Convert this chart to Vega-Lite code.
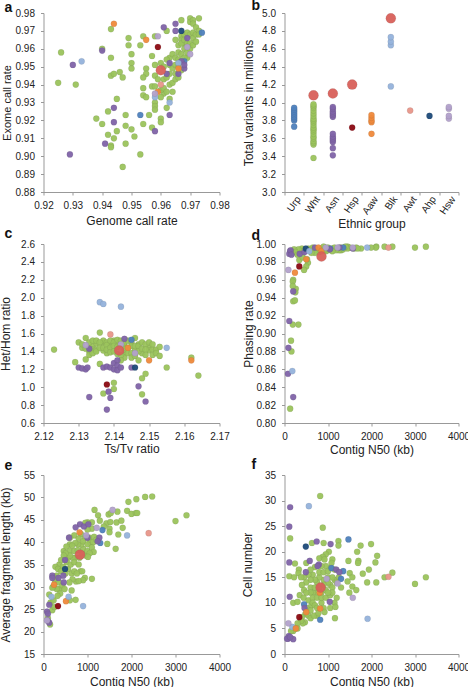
{"$schema":"https://vega.github.io/schema/vega-lite/v6.json","padding":{"left":-1.5,"top":-1,"right":0,"bottom":0},"background":"white","bounds":"flush","columns":2,"spacing":{"row":52,"column":65},
"config":{"view":{"stroke":null},"font":"Liberation Sans","axis":{"grid":false,"domainColor":"#999","tickColor":"#999","tickSize":3,"labelFont":"Liberation Sans","titleFont":"Liberation Sans","labelFontSize":10,"labelPadding":6,"labelFlush":false,"titleFontSize":12,"titleFontWeight":"normal","labelColor":"#222","titleColor":"#222","labelOverlap":false},"axisX":{"labelPadding":5},"title":{"font":"Liberation Sans","fontSize":14,"fontWeight":"bold","anchor":"start","frame":"group","dx":-39,"color":"#111"},"point":{"filled":true}},
"datasets":{
"a":[{"x":0.965,"y":0.965,"g":"Wht"},{"x":0.969,"y":0.955,"g":"Wht"},{"x":0.963,"y":0.955,"g":"Wht"},{"x":0.968,"y":0.963,"g":"Wht"},{"x":0.961,"y":0.935,"g":"Wht"},{"x":0.926,"y":0.958,"g":"Wht"},{"x":0.925,"y":0.941,"g":"Wht"},{"x":0.931,"y":0.94,"g":"Wht"},{"x":0.943,"y":0.971,"g":"Wht"},{"x":0.94,"y":0.96,"g":"Wht"},{"x":0.943,"y":0.955,"g":"Wht"},{"x":0.943,"y":0.945,"g":"Wht"},{"x":0.944,"y":0.946,"g":"Wht"},{"x":0.946,"y":0.947,"g":"Wht"},{"x":0.947,"y":0.944,"g":"Wht"},{"x":0.945,"y":0.932,"g":"Wht"},{"x":0.942,"y":0.925,"g":"Wht"},{"x":0.938,"y":0.921,"g":"Wht"},{"x":0.94,"y":0.918,"g":"Wht"},{"x":0.942,"y":0.912,"g":"Wht"},{"x":0.944,"y":0.91,"g":"Wht"},{"x":0.943,"y":0.906,"g":"Wht"},{"x":0.943,"y":0.905,"g":"Wht"},{"x":0.945,"y":0.914,"g":"Wht"},{"x":0.948,"y":0.923,"g":"Wht"},{"x":0.948,"y":0.917,"g":"Wht"},{"x":0.95,"y":0.915,"g":"Wht"},{"x":0.951,"y":0.911,"g":"Wht"},{"x":0.948,"y":0.907,"g":"Wht"},{"x":0.947,"y":0.894,"g":"Wht"},{"x":0.953,"y":0.901,"g":"Wht"},{"x":0.954,"y":0.918,"g":"Wht"},{"x":0.956,"y":0.923,"g":"Wht"},{"x":0.957,"y":0.916,"g":"Wht"},{"x":0.96,"y":0.921,"g":"Wht"},{"x":0.96,"y":0.919,"g":"Wht"},{"x":0.962,"y":0.927,"g":"Wht"},{"x":0.963,"y":0.932,"g":"Wht"},{"x":0.949,"y":0.966,"g":"Wht"},{"x":0.949,"y":0.962,"g":"Wht"},{"x":0.95,"y":0.957,"g":"Wht"},{"x":0.95,"y":0.952,"g":"Wht"},{"x":0.95,"y":0.949,"g":"Wht"},{"x":0.953,"y":0.962,"g":"Wht"},{"x":0.954,"y":0.967,"g":"Wht"},{"x":0.955,"y":0.949,"g":"Wht"},{"x":0.955,"y":0.946,"g":"Wht"},{"x":0.954,"y":0.944,"g":"Wht"},{"x":0.954,"y":0.938,"g":"Wht"},{"x":0.954,"y":0.934,"g":"Wht"},{"x":0.955,"y":0.933,"g":"Wht"},{"x":0.957,"y":0.939,"g":"Wht"},{"x":0.957,"y":0.956,"g":"Wht"},{"x":0.958,"y":0.967,"g":"Wht"},{"x":0.958,"y":0.951,"g":"Wht"},{"x":0.958,"y":0.945,"g":"Wht"},{"x":0.958,"y":0.939,"g":"Wht"},{"x":0.958,"y":0.93,"g":"Wht"},{"x":0.958,"y":0.928,"g":"Wht"},{"x":0.958,"y":0.926,"g":"Wht"},{"x":0.96,"y":0.952,"g":"Wht"},{"x":0.959,"y":0.943,"g":"Wht"},{"x":0.961,"y":0.95,"g":"Wht"},{"x":0.96,"y":0.937,"g":"Wht"},{"x":0.96,"y":0.933,"g":"Wht"},{"x":0.961,"y":0.943,"g":"Wht"},{"x":0.961,"y":0.938,"g":"Wht"},{"x":0.962,"y":0.97,"g":"Wht"},{"x":0.962,"y":0.954,"g":"Wht"},{"x":0.962,"y":0.944,"g":"Wht"},{"x":0.962,"y":0.936,"g":"Wht"},{"x":0.963,"y":0.951,"g":"Wht"},{"x":0.963,"y":0.946,"g":"Wht"},{"x":0.963,"y":0.94,"g":"Wht"},{"x":0.964,"y":0.957,"g":"Wht"},{"x":0.964,"y":0.949,"g":"Wht"},{"x":0.964,"y":0.941,"g":"Wht"},{"x":0.964,"y":0.936,"g":"Wht"},{"x":0.965,"y":0.955,"g":"Wht"},{"x":0.965,"y":0.951,"g":"Wht"},{"x":0.965,"y":0.946,"g":"Wht"},{"x":0.965,"y":0.943,"g":"Wht"},{"x":0.966,"y":0.962,"g":"Wht"},{"x":0.966,"y":0.958,"g":"Wht"},{"x":0.966,"y":0.954,"g":"Wht"},{"x":0.966,"y":0.95,"g":"Wht"},{"x":0.966,"y":0.944,"g":"Wht"},{"x":0.967,"y":0.976,"g":"Wht"},{"x":0.967,"y":0.967,"g":"Wht"},{"x":0.967,"y":0.965,"g":"Wht"},{"x":0.967,"y":0.963,"g":"Wht"},{"x":0.967,"y":0.957,"g":"Wht"},{"x":0.967,"y":0.953,"g":"Wht"},{"x":0.967,"y":0.948,"g":"Wht"},{"x":0.968,"y":0.968,"g":"Wht"},{"x":0.968,"y":0.965,"g":"Wht"},{"x":0.968,"y":0.96,"g":"Wht"},{"x":0.968,"y":0.955,"g":"Wht"},{"x":0.969,"y":0.969,"g":"Wht"},{"x":0.969,"y":0.963,"g":"Wht"},{"x":0.969,"y":0.958,"g":"Wht"},{"x":0.97,"y":0.977,"g":"Wht"},{"x":0.97,"y":0.975,"g":"Wht"},{"x":0.97,"y":0.968,"g":"Wht"},{"x":0.97,"y":0.963,"g":"Wht"},{"x":0.97,"y":0.96,"g":"Wht"},{"x":0.971,"y":0.976,"g":"Wht"},{"x":0.971,"y":0.974,"g":"Wht"},{"x":0.971,"y":0.969,"g":"Wht"},{"x":0.971,"y":0.966,"g":"Wht"},{"x":0.971,"y":0.962,"g":"Wht"},{"x":0.972,"y":0.972,"g":"Wht"},{"x":0.972,"y":0.968,"g":"Wht"},{"x":0.972,"y":0.964,"g":"Wht"},{"x":0.973,"y":0.977,"g":"Wht"},{"x":0.973,"y":0.97,"g":"Wht"},{"x":0.973,"y":0.968,"g":"Wht"},{"x":0.953,"y":0.923,"g":"Urp"},{"x":0.974,"y":0.969,"g":"Urp"},{"x":0.968,"y":0.953,"g":"Urp"},{"x":0.929,"y":0.901,"g":"Asn"},{"x":0.93,"y":0.951,"g":"Asn"},{"x":0.94,"y":0.959,"g":"Asn"},{"x":0.944,"y":0.927,"g":"Asn"},{"x":0.944,"y":0.919,"g":"Asn"},{"x":0.941,"y":0.907,"g":"Asn"},{"x":0.958,"y":0.914,"g":"Asn"},{"x":0.963,"y":0.923,"g":"Asn"},{"x":0.961,"y":0.972,"g":"Asn"},{"x":0.965,"y":0.974,"g":"Asn"},{"x":0.965,"y":0.97,"g":"Asn"},{"x":0.962,"y":0.946,"g":"Asn"},{"x":0.963,"y":0.952,"g":"Asn"},{"x":0.967,"y":0.953,"g":"Asn"},{"x":0.968,"y":0.949,"g":"Asn"},{"x":0.968,"y":0.951,"g":"Asn"},{"x":0.966,"y":0.946,"g":"Asn"},{"x":0.969,"y":0.966,"g":"Asn"},{"x":0.933,"y":0.953,"g":"Blk"},{"x":0.958,"y":0.933,"g":"Blk"},{"x":0.963,"y":0.93,"g":"Blk"},{"x":0.966,"y":0.952,"g":"Blk"},{"x":0.944,"y":0.974,"g":"Aaw"},{"x":0.955,"y":0.965,"g":"Aaw"},{"x":0.966,"y":0.949,"g":"Aaw"},{"x":0.959,"y":0.936,"g":"Aaw"},{"x":0.959,"y":0.961,"g":"Hsp"},{"x":0.967,"y":0.97,"g":"Ahp"},{"x":0.96,"y":0.94,"g":"Awt"},{"x":0.959,"y":0.967,"g":"Hsw"},{"x":0.958,"y":0.935,"g":"Hsw"},{"x":0.969,"y":0.961,"g":"Hsw"},{"x":0.97,"y":0.957,"g":"Hsw"},{"x":0.96,"y":0.948,"g":"Ref"}],
"b":[{"x":"Urp","y":3.73,"g":"Urp"},{"x":"Urp","y":3.8,"g":"Urp"},{"x":"Urp","y":3.82,"g":"Urp"},{"x":"Urp","y":3.84,"g":"Urp"},{"x":"Urp","y":3.86,"g":"Urp"},{"x":"Urp","y":3.88,"g":"Urp"},{"x":"Urp","y":3.9,"g":"Urp"},{"x":"Urp","y":3.92,"g":"Urp"},{"x":"Urp","y":3.94,"g":"Urp"},{"x":"Wht","y":3.38,"g":"Wht"},{"x":"Wht","y":3.53,"g":"Wht"},{"x":"Wht","y":3.55,"g":"Wht"},{"x":"Wht","y":3.57,"g":"Wht"},{"x":"Wht","y":3.6,"g":"Wht"},{"x":"Wht","y":3.62,"g":"Wht"},{"x":"Wht","y":3.65,"g":"Wht"},{"x":"Wht","y":3.68,"g":"Wht"},{"x":"Wht","y":3.7,"g":"Wht"},{"x":"Wht","y":3.72,"g":"Wht"},{"x":"Wht","y":3.75,"g":"Wht"},{"x":"Wht","y":3.78,"g":"Wht"},{"x":"Wht","y":3.8,"g":"Wht"},{"x":"Wht","y":3.82,"g":"Wht"},{"x":"Wht","y":3.85,"g":"Wht"},{"x":"Wht","y":3.88,"g":"Wht"},{"x":"Wht","y":3.91,"g":"Wht"},{"x":"Wht","y":3.94,"g":"Wht"},{"x":"Wht","y":3.96,"g":"Wht"},{"x":"Wht","y":3.98,"g":"Wht"},{"x":"Asn","y":3.41,"g":"Asn"},{"x":"Asn","y":3.49,"g":"Asn"},{"x":"Asn","y":3.56,"g":"Asn"},{"x":"Asn","y":3.58,"g":"Asn"},{"x":"Asn","y":3.6,"g":"Asn"},{"x":"Asn","y":3.62,"g":"Asn"},{"x":"Asn","y":3.65,"g":"Asn"},{"x":"Asn","y":3.84,"g":"Asn"},{"x":"Asn","y":3.86,"g":"Asn"},{"x":"Asn","y":3.88,"g":"Asn"},{"x":"Asn","y":3.9,"g":"Asn"},{"x":"Asn","y":3.93,"g":"Asn"},{"x":"Asn","y":3.95,"g":"Asn"},{"x":"Hsp","y":3.72,"g":"Hsp"},{"x":"Aaw","y":3.65,"g":"Aaw"},{"x":"Aaw","y":3.78,"g":"Aaw"},{"x":"Aaw","y":3.8,"g":"Aaw"},{"x":"Aaw","y":3.83,"g":"Aaw"},{"x":"Aaw","y":3.86,"g":"Aaw"},{"x":"Blk","y":4.18,"g":"Blk"},{"x":"Blk","y":4.64,"g":"Blk"},{"x":"Blk","y":4.68,"g":"Blk"},{"x":"Blk","y":4.73,"g":"Blk"},{"x":"Awt","y":3.91,"g":"Awt"},{"x":"Ahp","y":3.85,"g":"Ahp"},{"x":"Hsw","y":3.82,"g":"Hsw"},{"x":"Hsw","y":3.85,"g":"Hsw"},{"x":"Hsw","y":3.93,"g":"Hsw"},{"x":"Hsw","y":3.95,"g":"Hsw"},{"x":"Wht","y":4.08,"g":"Ref"},{"x":"Asn","y":4.1,"g":"Ref"},{"x":"Hsp","y":4.2,"g":"Ref"},{"x":"Blk","y":4.94,"g":"Ref"}],
"c":[{"x":2.131,"y":1.44,"g":"Wht"},{"x":2.133,"y":1.44,"g":"Wht"},{"x":2.134,"y":1.46,"g":"Wht"},{"x":2.135,"y":1.49,"g":"Wht"},{"x":2.137,"y":1.5,"g":"Wht"},{"x":2.137,"y":1.52,"g":"Wht"},{"x":2.138,"y":1.38,"g":"Wht"},{"x":2.14,"y":1.52,"g":"Wht"},{"x":2.141,"y":1.49,"g":"Wht"},{"x":2.141,"y":1.37,"g":"Wht"},{"x":2.143,"y":1.46,"g":"Wht"},{"x":2.143,"y":1.38,"g":"Wht"},{"x":2.144,"y":1.44,"g":"Wht"},{"x":2.146,"y":1.42,"g":"Wht"},{"x":2.147,"y":1.48,"g":"Wht"},{"x":2.148,"y":1.38,"g":"Wht"},{"x":2.15,"y":1.45,"g":"Wht"},{"x":2.15,"y":1.41,"g":"Wht"},{"x":2.151,"y":1.42,"g":"Wht"},{"x":2.143,"y":1.33,"g":"Wht"},{"x":2.139,"y":1.47,"g":"Wht"},{"x":2.137,"y":1.41,"g":"Wht"},{"x":2.134,"y":1.42,"g":"Wht"},{"x":2.133,"y":1.4,"g":"Wht"},{"x":2.123,"y":1.42,"g":"Wht"},{"x":2.129,"y":1.28,"g":"Wht"},{"x":2.13,"y":1.5,"g":"Wht"},{"x":2.131,"y":1.48,"g":"Wht"},{"x":2.132,"y":1.55,"g":"Wht"},{"x":2.132,"y":1.43,"g":"Wht"},{"x":2.132,"y":1.31,"g":"Wht"},{"x":2.133,"y":1.5,"g":"Wht"},{"x":2.133,"y":1.36,"g":"Wht"},{"x":2.134,"y":1.52,"g":"Wht"},{"x":2.134,"y":1.38,"g":"Wht"},{"x":2.135,"y":1.52,"g":"Wht"},{"x":2.135,"y":1.42,"g":"Wht"},{"x":2.135,"y":1.4,"g":"Wht"},{"x":2.136,"y":1.61,"g":"Wht"},{"x":2.136,"y":1.5,"g":"Wht"},{"x":2.136,"y":1.44,"g":"Wht"},{"x":2.136,"y":1.26,"g":"Wht"},{"x":2.137,"y":1.44,"g":"Wht"},{"x":2.137,"y":0.93,"g":"Wht"},{"x":2.138,"y":1.5,"g":"Wht"},{"x":2.138,"y":1.47,"g":"Wht"},{"x":2.138,"y":1.42,"g":"Wht"},{"x":2.139,"y":1.52,"g":"Wht"},{"x":2.139,"y":1.44,"g":"Wht"},{"x":2.139,"y":1.39,"g":"Wht"},{"x":2.14,"y":1.5,"g":"Wht"},{"x":2.14,"y":1.46,"g":"Wht"},{"x":2.14,"y":1.4,"g":"Wht"},{"x":2.14,"y":1.05,"g":"Wht"},{"x":2.14,"y":0.98,"g":"Wht"},{"x":2.141,"y":1.53,"g":"Wht"},{"x":2.141,"y":1.45,"g":"Wht"},{"x":2.142,"y":1.52,"g":"Wht"},{"x":2.142,"y":1.36,"g":"Wht"},{"x":2.142,"y":1.3,"g":"Wht"},{"x":2.143,"y":1.5,"g":"Wht"},{"x":2.143,"y":1.42,"g":"Wht"},{"x":2.144,"y":1.52,"g":"Wht"},{"x":2.144,"y":1.38,"g":"Wht"},{"x":2.145,"y":1.5,"g":"Wht"},{"x":2.145,"y":1.46,"g":"Wht"},{"x":2.145,"y":1.38,"g":"Wht"},{"x":2.145,"y":1.33,"g":"Wht"},{"x":2.146,"y":1.55,"g":"Wht"},{"x":2.146,"y":1.46,"g":"Wht"},{"x":2.146,"y":1.35,"g":"Wht"},{"x":2.147,"y":1.46,"g":"Wht"},{"x":2.147,"y":1.4,"g":"Wht"},{"x":2.147,"y":1.3,"g":"Wht"},{"x":2.148,"y":1.5,"g":"Wht"},{"x":2.148,"y":1.43,"g":"Wht"},{"x":2.148,"y":1.1,"g":"Wht"},{"x":2.148,"y":0.92,"g":"Wht"},{"x":2.149,"y":1.48,"g":"Wht"},{"x":2.149,"y":1.42,"g":"Wht"},{"x":2.149,"y":1.36,"g":"Wht"},{"x":2.149,"y":1.15,"g":"Wht"},{"x":2.15,"y":1.5,"g":"Wht"},{"x":2.151,"y":1.48,"g":"Wht"},{"x":2.151,"y":1.36,"g":"Wht"},{"x":2.152,"y":1.42,"g":"Wht"},{"x":2.152,"y":1.38,"g":"Wht"},{"x":2.153,"y":1.45,"g":"Wht"},{"x":2.153,"y":1.35,"g":"Wht"},{"x":2.155,"y":1.22,"g":"Wht"},{"x":2.162,"y":1.33,"g":"Wht"},{"x":2.164,"y":1.13,"g":"Wht"},{"x":2.145,"y":1.53,"g":"Urp"},{"x":2.13,"y":1.22,"g":"Asn"},{"x":2.131,"y":1.21,"g":"Asn"},{"x":2.132,"y":1.2,"g":"Asn"},{"x":2.1325,"y":1.22,"g":"Asn"},{"x":2.133,"y":1.43,"g":"Asn"},{"x":2.133,"y":0.89,"g":"Asn"},{"x":2.137,"y":1.22,"g":"Asn"},{"x":2.138,"y":1.23,"g":"Asn"},{"x":2.139,"y":1.22,"g":"Asn"},{"x":2.14,"y":1.27,"g":"Asn"},{"x":2.14,"y":1.2,"g":"Asn"},{"x":2.141,"y":1.3,"g":"Asn"},{"x":2.141,"y":1.24,"g":"Asn"},{"x":2.141,"y":1.19,"g":"Asn"},{"x":2.142,"y":1.22,"g":"Asn"},{"x":2.1385,"y":0.95,"g":"Asn"},{"x":2.139,"y":0.88,"g":"Asn"},{"x":2.138,"y":0.75,"g":"Asn"},{"x":2.143,"y":1.54,"g":"Asn"},{"x":2.145,"y":1.22,"g":"Asn"},{"x":2.147,"y":1.01,"g":"Asn"},{"x":2.149,"y":0.84,"g":"Asn"},{"x":2.136,"y":1.95,"g":"Blk"},{"x":2.137,"y":1.93,"g":"Blk"},{"x":2.142,"y":1.9,"g":"Blk"},{"x":2.155,"y":1.44,"g":"Blk"},{"x":2.144,"y":1.44,"g":"Aaw"},{"x":2.15,"y":1.3,"g":"Aaw"},{"x":2.162,"y":1.3,"g":"Aaw"},{"x":2.139,"y":1.59,"g":"Awt"},{"x":2.138,"y":1.03,"g":"Hsp"},{"x":2.146,"y":1.22,"g":"Ahp"},{"x":2.132,"y":1.47,"g":"Hsw"},{"x":2.142,"y":1.48,"g":"Hsw"},{"x":2.146,"y":1.38,"g":"Hsw"},{"x":2.1415,"y":1.41,"g":"Ref"}],
"d":[{"x":400,"y":0.995,"g":"Wht"},{"x":550,"y":0.995,"g":"Wht"},{"x":750,"y":0.993,"g":"Wht"},{"x":850,"y":0.995,"g":"Wht"},{"x":1000,"y":0.996,"g":"Wht"},{"x":1100,"y":0.995,"g":"Wht"},{"x":1200,"y":0.995,"g":"Wht"},{"x":1300,"y":0.996,"g":"Wht"},{"x":1450,"y":0.997,"g":"Wht"},{"x":1600,"y":0.995,"g":"Wht"},{"x":1650,"y":0.996,"g":"Wht"},{"x":1300,"y":0.993,"g":"Wht"},{"x":600,"y":0.993,"g":"Wht"},{"x":420,"y":0.992,"g":"Wht"},{"x":180,"y":0.99,"g":"Wht"},{"x":3000,"y":0.996,"g":"Wht"},{"x":3250,"y":0.997,"g":"Wht"},{"x":2480,"y":0.997,"g":"Wht"},{"x":2300,"y":0.997,"g":"Wht"},{"x":2110,"y":0.997,"g":"Wht"},{"x":2100,"y":0.996,"g":"Wht"},{"x":1990,"y":0.996,"g":"Wht"},{"x":1760,"y":0.995,"g":"Wht"},{"x":1680,"y":0.995,"g":"Wht"},{"x":1500,"y":0.996,"g":"Wht"},{"x":1450,"y":0.995,"g":"Wht"},{"x":1400,"y":0.997,"g":"Wht"},{"x":1350,"y":0.994,"g":"Wht"},{"x":1250,"y":0.993,"g":"Wht"},{"x":1180,"y":0.993,"g":"Wht"},{"x":1150,"y":0.996,"g":"Wht"},{"x":1100,"y":0.992,"g":"Wht"},{"x":1000,"y":0.993,"g":"Wht"},{"x":950,"y":0.992,"g":"Wht"},{"x":900,"y":0.993,"g":"Wht"},{"x":900,"y":0.997,"g":"Wht"},{"x":800,"y":0.991,"g":"Wht"},{"x":700,"y":0.99,"g":"Wht"},{"x":620,"y":0.99,"g":"Wht"},{"x":650,"y":0.996,"g":"Wht"},{"x":540,"y":0.979,"g":"Wht"},{"x":500,"y":0.975,"g":"Wht"},{"x":450,"y":0.971,"g":"Wht"},{"x":520,"y":0.983,"g":"Wht"},{"x":340,"y":0.982,"g":"Wht"},{"x":320,"y":0.994,"g":"Wht"},{"x":220,"y":0.994,"g":"Wht"},{"x":420,"y":0.985,"g":"Wht"},{"x":250,"y":0.991,"g":"Wht"},{"x":300,"y":0.988,"g":"Wht"},{"x":260,"y":0.95,"g":"Wht"},{"x":250,"y":0.946,"g":"Wht"},{"x":200,"y":0.96,"g":"Wht"},{"x":190,"y":0.958,"g":"Wht"},{"x":190,"y":0.953,"g":"Wht"},{"x":200,"y":0.936,"g":"Wht"},{"x":240,"y":0.937,"g":"Wht"},{"x":320,"y":0.91,"g":"Wht"},{"x":190,"y":0.91,"g":"Wht"},{"x":150,"y":0.892,"g":"Wht"},{"x":160,"y":0.88,"g":"Wht"},{"x":130,"y":0.816,"g":"Wht"},{"x":1050,"y":0.995,"g":"Urp"},{"x":1350,"y":0.996,"g":"Urp"},{"x":130,"y":0.992,"g":"Asn"},{"x":110,"y":0.989,"g":"Asn"},{"x":140,"y":0.993,"g":"Asn"},{"x":160,"y":0.988,"g":"Asn"},{"x":350,"y":0.989,"g":"Asn"},{"x":460,"y":0.991,"g":"Asn"},{"x":700,"y":0.996,"g":"Asn"},{"x":1040,"y":0.994,"g":"Asn"},{"x":1260,"y":0.996,"g":"Asn"},{"x":1570,"y":0.995,"g":"Asn"},{"x":200,"y":0.947,"g":"Asn"},{"x":110,"y":0.914,"g":"Asn"},{"x":90,"y":0.884,"g":"Asn"},{"x":80,"y":0.855,"g":"Asn"},{"x":200,"y":0.829,"g":"Asn"},{"x":240,"y":0.968,"g":"Aaw"},{"x":500,"y":0.983,"g":"Aaw"},{"x":780,"y":0.996,"g":"Aaw"},{"x":850,"y":0.992,"g":"Aaw"},{"x":340,"y":0.975,"g":"Hsp"},{"x":490,"y":0.995,"g":"Ahp"},{"x":180,"y":0.858,"g":"Blk"},{"x":570,"y":0.992,"g":"Blk"},{"x":1900,"y":0.996,"g":"Blk"},{"x":90,"y":0.971,"g":"Hsw"},{"x":950,"y":0.996,"g":"Hsw"},{"x":1220,"y":0.996,"g":"Hsw"},{"x":1570,"y":0.996,"g":"Hsw"},{"x":2390,"y":0.996,"g":"Awt"},{"x":850,"y":0.986,"g":"Ref"}],
"e":[{"x":560,"y":34,"g":"Wht"},{"x":640,"y":33,"g":"Wht"},{"x":720,"y":36.5,"g":"Wht"},{"x":820,"y":36.5,"g":"Wht"},{"x":880,"y":37.5,"g":"Wht"},{"x":900,"y":38.5,"g":"Wht"},{"x":960,"y":37,"g":"Wht"},{"x":1000,"y":38,"g":"Wht"},{"x":860,"y":39.5,"g":"Wht"},{"x":780,"y":39.5,"g":"Wht"},{"x":940,"y":41,"g":"Wht"},{"x":1040,"y":41,"g":"Wht"},{"x":1060,"y":40,"g":"Wht"},{"x":1130,"y":40,"g":"Wht"},{"x":660,"y":36.5,"g":"Wht"},{"x":560,"y":36.5,"g":"Wht"},{"x":600,"y":39.5,"g":"Wht"},{"x":460,"y":38,"g":"Wht"},{"x":360,"y":35,"g":"Wht"},{"x":440,"y":34.5,"g":"Wht"},{"x":300,"y":32.5,"g":"Wht"},{"x":260,"y":31.5,"g":"Wht"},{"x":360,"y":29.5,"g":"Wht"},{"x":300,"y":29.5,"g":"Wht"},{"x":160,"y":26.5,"g":"Wht"},{"x":200,"y":24.8,"g":"Wht"},{"x":3250,"y":46,"g":"Wht"},{"x":3000,"y":44.7,"g":"Wht"},{"x":2470,"y":50.2,"g":"Wht"},{"x":2310,"y":50.1,"g":"Wht"},{"x":2110,"y":49.6,"g":"Wht"},{"x":1930,"y":49,"g":"Wht"},{"x":1900,"y":47,"g":"Wht"},{"x":2000,"y":46.3,"g":"Wht"},{"x":2100,"y":46.5,"g":"Wht"},{"x":2130,"y":46.5,"g":"Wht"},{"x":1160,"y":47.2,"g":"Wht"},{"x":1240,"y":46,"g":"Wht"},{"x":1280,"y":44.8,"g":"Wht"},{"x":1480,"y":46.2,"g":"Wht"},{"x":1530,"y":46.5,"g":"Wht"},{"x":1680,"y":46.8,"g":"Wht"},{"x":1660,"y":44.4,"g":"Wht"},{"x":1770,"y":44.8,"g":"Wht"},{"x":1800,"y":43.2,"g":"Wht"},{"x":1700,"y":41.7,"g":"Wht"},{"x":1640,"y":38.5,"g":"Wht"},{"x":1450,"y":39.6,"g":"Wht"},{"x":1500,"y":43,"g":"Wht"},{"x":1500,"y":42.2,"g":"Wht"},{"x":1430,"y":44.2,"g":"Wht"},{"x":1520,"y":44.5,"g":"Wht"},{"x":1370,"y":43.5,"g":"Wht"},{"x":1100,"y":44.4,"g":"Wht"},{"x":1000,"y":44.4,"g":"Wht"},{"x":950,"y":44.3,"g":"Wht"},{"x":1100,"y":43,"g":"Wht"},{"x":1000,"y":42.8,"g":"Wht"},{"x":850,"y":41.8,"g":"Wht"},{"x":1150,"y":41.2,"g":"Wht"},{"x":1200,"y":40.5,"g":"Wht"},{"x":700,"y":41.5,"g":"Wht"},{"x":800,"y":40.8,"g":"Wht"},{"x":900,"y":40.2,"g":"Wht"},{"x":1000,"y":39.5,"g":"Wht"},{"x":1100,"y":38.8,"g":"Wht"},{"x":1140,"y":37.8,"g":"Wht"},{"x":1050,"y":37.5,"g":"Wht"},{"x":1010,"y":36.7,"g":"Wht"},{"x":720,"y":39.8,"g":"Wht"},{"x":650,"y":39.2,"g":"Wht"},{"x":600,"y":41,"g":"Wht"},{"x":520,"y":39,"g":"Wht"},{"x":600,"y":38,"g":"Wht"},{"x":700,"y":38,"g":"Wht"},{"x":780,"y":38.2,"g":"Wht"},{"x":600,"y":37,"g":"Wht"},{"x":500,"y":37.5,"g":"Wht"},{"x":460,"y":37,"g":"Wht"},{"x":400,"y":36,"g":"Wht"},{"x":530,"y":35.5,"g":"Wht"},{"x":620,"y":35,"g":"Wht"},{"x":700,"y":35.5,"g":"Wht"},{"x":800,"y":35,"g":"Wht"},{"x":840,"y":33.5,"g":"Wht"},{"x":700,"y":33.5,"g":"Wht"},{"x":760,"y":33,"g":"Wht"},{"x":880,"y":33.5,"g":"Wht"},{"x":940,"y":32,"g":"Wht"},{"x":900,"y":31.5,"g":"Wht"},{"x":740,"y":31.2,"g":"Wht"},{"x":800,"y":31.3,"g":"Wht"},{"x":660,"y":31.7,"g":"Wht"},{"x":590,"y":31,"g":"Wht"},{"x":1100,"y":31.8,"g":"Wht"},{"x":270,"y":34.5,"g":"Wht"},{"x":330,"y":34,"g":"Wht"},{"x":400,"y":33.5,"g":"Wht"},{"x":500,"y":33,"g":"Wht"},{"x":340,"y":31,"g":"Wht"},{"x":430,"y":30.3,"g":"Wht"},{"x":480,"y":29.5,"g":"Wht"},{"x":380,"y":28.5,"g":"Wht"},{"x":320,"y":28,"g":"Wht"},{"x":220,"y":30,"g":"Wht"},{"x":200,"y":29.8,"g":"Wht"},{"x":130,"y":28.3,"g":"Wht"},{"x":230,"y":27,"g":"Wht"},{"x":640,"y":29.2,"g":"Wht"},{"x":730,"y":27.1,"g":"Wht"},{"x":600,"y":27,"g":"Wht"},{"x":150,"y":21.6,"g":"Wht"},{"x":250,"y":25.5,"g":"Wht"},{"x":100,"y":23,"g":"Wht"},{"x":1340,"y":42.7,"g":"Urp"},{"x":1290,"y":39.8,"g":"Urp"},{"x":830,"y":44,"g":"Asn"},{"x":920,"y":43.5,"g":"Asn"},{"x":730,"y":43.3,"g":"Asn"},{"x":1020,"y":44,"g":"Asn"},{"x":580,"y":41,"g":"Asn"},{"x":1000,"y":41,"g":"Asn"},{"x":1270,"y":41,"g":"Asn"},{"x":1230,"y":40.2,"g":"Asn"},{"x":490,"y":36,"g":"Asn"},{"x":200,"y":32.5,"g":"Asn"},{"x":200,"y":32,"g":"Asn"},{"x":340,"y":32,"g":"Asn"},{"x":450,"y":32.5,"g":"Asn"},{"x":460,"y":31,"g":"Asn"},{"x":130,"y":26,"g":"Asn"},{"x":80,"y":24.5,"g":"Asn"},{"x":100,"y":24,"g":"Asn"},{"x":130,"y":22,"g":"Asn"},{"x":90,"y":22.5,"g":"Asn"},{"x":820,"y":42.2,"g":"Aaw"},{"x":240,"y":30.5,"g":"Aaw"},{"x":510,"y":26.8,"g":"Aaw"},{"x":330,"y":25.7,"g":"Hsp"},{"x":490,"y":34,"g":"Ahp"},{"x":1900,"y":41.5,"g":"Blk"},{"x":900,"y":25.7,"g":"Blk"},{"x":180,"y":27.8,"g":"Blk"},{"x":570,"y":27.8,"g":"Blk"},{"x":1570,"y":47.2,"g":"Hsw"},{"x":1210,"y":43.2,"g":"Hsw"},{"x":970,"y":41.5,"g":"Hsw"},{"x":80,"y":22.5,"g":"Hsw"},{"x":2390,"y":42,"g":"Awt"},{"x":830,"y":37.2,"g":"Ref"}],
"f":[{"x":800,"y":13,"g":"Wht"},{"x":750,"y":14,"g":"Wht"},{"x":650,"y":15.5,"g":"Wht"},{"x":550,"y":15.5,"g":"Wht"},{"x":450,"y":15,"g":"Wht"},{"x":900,"y":14.5,"g":"Wht"},{"x":850,"y":12,"g":"Wht"},{"x":950,"y":12.5,"g":"Wht"},{"x":750,"y":12,"g":"Wht"},{"x":650,"y":12,"g":"Wht"},{"x":1050,"y":13.5,"g":"Wht"},{"x":1150,"y":14.5,"g":"Wht"},{"x":1250,"y":15,"g":"Wht"},{"x":1150,"y":16.5,"g":"Wht"},{"x":1050,"y":16.8,"g":"Wht"},{"x":950,"y":17.2,"g":"Wht"},{"x":850,"y":17.2,"g":"Wht"},{"x":700,"y":17,"g":"Wht"},{"x":1300,"y":13,"g":"Wht"},{"x":1200,"y":11,"g":"Wht"},{"x":1150,"y":10,"g":"Wht"},{"x":1050,"y":9,"g":"Wht"},{"x":850,"y":10,"g":"Wht"},{"x":750,"y":7.5,"g":"Wht"},{"x":480,"y":7.8,"g":"Wht"},{"x":400,"y":7.2,"g":"Wht"},{"x":530,"y":9,"g":"Wht"},{"x":620,"y":9.5,"g":"Wht"},{"x":820,"y":30.9,"g":"Wht"},{"x":880,"y":24.7,"g":"Wht"},{"x":130,"y":22.6,"g":"Wht"},{"x":630,"y":21.7,"g":"Wht"},{"x":900,"y":21.7,"g":"Wht"},{"x":1240,"y":22.1,"g":"Wht"},{"x":1240,"y":21.2,"g":"Wht"},{"x":1750,"y":21.2,"g":"Wht"},{"x":1990,"y":21.5,"g":"Wht"},{"x":1670,"y":20,"g":"Wht"},{"x":2130,"y":19.2,"g":"Wht"},{"x":2090,"y":17.9,"g":"Wht"},{"x":1470,"y":18.2,"g":"Wht"},{"x":1700,"y":18.2,"g":"Wht"},{"x":1690,"y":17.8,"g":"Wht"},{"x":1100,"y":18.5,"g":"Wht"},{"x":1080,"y":17.8,"g":"Wht"},{"x":1020,"y":20,"g":"Wht"},{"x":950,"y":19.5,"g":"Wht"},{"x":880,"y":19,"g":"Wht"},{"x":800,"y":18.7,"g":"Wht"},{"x":920,"y":18.5,"g":"Wht"},{"x":500,"y":17.8,"g":"Wht"},{"x":240,"y":17.7,"g":"Wht"},{"x":330,"y":16.5,"g":"Wht"},{"x":320,"y":15.8,"g":"Wht"},{"x":110,"y":15.2,"g":"Wht"},{"x":220,"y":15,"g":"Wht"},{"x":380,"y":15,"g":"Wht"},{"x":1940,"y":16.5,"g":"Wht"},{"x":1800,"y":15.7,"g":"Wht"},{"x":1500,"y":15.8,"g":"Wht"},{"x":1560,"y":15,"g":"Wht"},{"x":2300,"y":15,"g":"Wht"},{"x":2480,"y":15.9,"g":"Wht"},{"x":3250,"y":15,"g":"Wht"},{"x":3000,"y":13.7,"g":"Wht"},{"x":1900,"y":14,"g":"Wht"},{"x":2110,"y":14,"g":"Wht"},{"x":1450,"y":14.2,"g":"Wht"},{"x":1560,"y":13.2,"g":"Wht"},{"x":1490,"y":12,"g":"Wht"},{"x":1650,"y":12.5,"g":"Wht"},{"x":1170,"y":9.2,"g":"Wht"},{"x":1160,"y":7,"g":"Wht"},{"x":800,"y":15,"g":"Wht"},{"x":700,"y":14.5,"g":"Wht"},{"x":600,"y":14.5,"g":"Wht"},{"x":500,"y":14,"g":"Wht"},{"x":400,"y":13.5,"g":"Wht"},{"x":450,"y":12.5,"g":"Wht"},{"x":600,"y":13,"g":"Wht"},{"x":700,"y":13,"g":"Wht"},{"x":1000,"y":15,"g":"Wht"},{"x":1100,"y":15,"g":"Wht"},{"x":1200,"y":14,"g":"Wht"},{"x":1000,"y":14,"g":"Wht"},{"x":900,"y":13.5,"g":"Wht"},{"x":1100,"y":13,"g":"Wht"},{"x":800,"y":16,"g":"Wht"},{"x":900,"y":16,"g":"Wht"},{"x":1000,"y":16.2,"g":"Wht"},{"x":600,"y":16.5,"g":"Wht"},{"x":600,"y":12,"g":"Wht"},{"x":500,"y":12,"g":"Wht"},{"x":350,"y":11.5,"g":"Wht"},{"x":440,"y":11,"g":"Wht"},{"x":550,"y":10.5,"g":"Wht"},{"x":650,"y":11,"g":"Wht"},{"x":750,"y":11,"g":"Wht"},{"x":850,"y":11,"g":"Wht"},{"x":950,"y":11,"g":"Wht"},{"x":1050,"y":11.5,"g":"Wht"},{"x":1100,"y":12,"g":"Wht"},{"x":1000,"y":12,"g":"Wht"},{"x":200,"y":10,"g":"Wht"},{"x":300,"y":10.2,"g":"Wht"},{"x":650,"y":10,"g":"Wht"},{"x":700,"y":9.5,"g":"Wht"},{"x":750,"y":9,"g":"Wht"},{"x":900,"y":9,"g":"Wht"},{"x":920,"y":8.2,"g":"Wht"},{"x":600,"y":8.5,"g":"Wht"},{"x":550,"y":7.5,"g":"Wht"},{"x":600,"y":7,"g":"Wht"},{"x":470,"y":6.2,"g":"Wht"},{"x":420,"y":6,"g":"Wht"},{"x":380,"y":6.5,"g":"Wht"},{"x":300,"y":6,"g":"Wht"},{"x":250,"y":5,"g":"Wht"},{"x":200,"y":4.5,"g":"Wht"},{"x":150,"y":4.5,"g":"Wht"},{"x":300,"y":5,"g":"Wht"},{"x":680,"y":7.5,"g":"Wht"},{"x":780,"y":8,"g":"Wht"},{"x":1470,"y":22.4,"g":"Urp"},{"x":1080,"y":16.8,"g":"Urp"},{"x":1350,"y":16.2,"g":"Urp"},{"x":1300,"y":14.7,"g":"Urp"},{"x":450,"y":9.7,"g":"Urp"},{"x":820,"y":6.7,"g":"Urp"},{"x":130,"y":28.7,"g":"Asn"},{"x":110,"y":24.9,"g":"Asn"},{"x":740,"y":22,"g":"Asn"},{"x":1060,"y":21.5,"g":"Asn"},{"x":580,"y":18.2,"g":"Asn"},{"x":110,"y":17.9,"g":"Asn"},{"x":790,"y":17.5,"g":"Asn"},{"x":760,"y":17.2,"g":"Asn"},{"x":490,"y":16,"g":"Asn"},{"x":1190,"y":16.5,"g":"Asn"},{"x":1260,"y":16,"g":"Asn"},{"x":120,"y":11.2,"g":"Asn"},{"x":1040,"y":10.2,"g":"Asn"},{"x":460,"y":9,"g":"Asn"},{"x":80,"y":3,"g":"Asn"},{"x":100,"y":3.5,"g":"Asn"},{"x":60,"y":3,"g":"Asn"},{"x":200,"y":2.9,"g":"Asn"},{"x":130,"y":3.3,"g":"Asn"},{"x":560,"y":28.9,"g":"Blk"},{"x":1910,"y":6.9,"g":"Blk"},{"x":180,"y":5.3,"g":"Blk"},{"x":810,"y":12,"g":"Aaw"},{"x":820,"y":8.9,"g":"Aaw"},{"x":500,"y":8.2,"g":"Aaw"},{"x":260,"y":5,"g":"Aaw"},{"x":340,"y":7.2,"g":"Hsp"},{"x":490,"y":21,"g":"Ahp"},{"x":970,"y":14.7,"g":"Hsw"},{"x":1220,"y":13.8,"g":"Hsw"},{"x":1570,"y":11,"g":"Hsw"},{"x":90,"y":6,"g":"Hsw"},{"x":2390,"y":15.1,"g":"Awt"},{"x":830,"y":13,"g":"Ref"}]
},
"concat":[
{"title":{"text":"a","offset":-7},"width":176,"height":179,"data":{"name":"a"},"mark":{"type":"point","filled":true,"opacity":0.95,"stroke":"#333","strokeOpacity":0.18,"strokeWidth":0.5},"encoding":{"x":{"field":"x","type":"quantitative","scale":{"domain":[0.92,0.98]},"axis":{"title":"Genome call rate","values":[0.92,0.93,0.94,0.95,0.96,0.97,0.98],"format":".2f","titlePadding":5}},"y":{"field":"y","type":"quantitative","scale":{"domain":[0.88,0.98]},"axis":{"title":"Exome call rate","titleFontSize":11,"values":[0.88,0.89,0.9,0.91,0.92,0.93,0.94,0.95,0.96,0.97,0.98],"format":".2f","titlePadding":3}},"fill":{"field":"g","type":"nominal","legend":null,"scale":{"domain":["Urp","Wht","Asn","Hsp","Aaw","Blk","Awt","Ahp","Hsw","Ref"],"range":["#4f81bd","#9bc45c","#8064a8","#8c0a12","#f08a3c","#95b3dc","#e8968a","#1d4a7a","#b3a2cc","#d9605a"]}},"size":{"condition":{"test":"datum.g==='Ref'","value":100},"value":38}}},
{"title":{"text":"b","dx":-33,"offset":-5},"width":174,"height":179,"data":{"name":"b"},"mark":{"type":"point","filled":true,"opacity":0.95,"stroke":"#333","strokeOpacity":0.18,"strokeWidth":0.5},"encoding":{"x":{"field":"x","type":"nominal","sort":["Urp","Wht","Asn","Hsp","Aaw","Blk","Awt","Ahp","Hsw"],"scale":{"domain":["Urp","Wht","Asn","Hsp","Aaw","Blk","Awt","Ahp","Hsw"]},"axis":{"title":"Ethnic group","tickBand":"extent","labelAngle":-55,"labelAlign":"right","labelBaseline":"middle","labelPadding":2,"labelOffset":4,"titlePadding":3}},"y":{"field":"y","type":"quantitative","scale":{"domain":[3,5]},"axis":{"title":"Total variants in millions","values":[3,3.2,3.4,3.6,3.8,4,4.2,4.4,4.6,4.8,5],"format":".1f","titlePadding":6.5}},"fill":{"field":"g","type":"nominal","legend":null,"scale":{"domain":["Urp","Wht","Asn","Hsp","Aaw","Blk","Awt","Ahp","Hsw","Ref"],"range":["#4f81bd","#9bc45c","#8064a8","#8c0a12","#f08a3c","#95b3dc","#e8968a","#1d4a7a","#b3a2cc","#d9605a"]}},"size":{"condition":{"test":"datum.g==='Ref'","value":100},"value":38}}},
{"title":{"text":"c","offset":-2},"width":176,"height":179,"data":{"name":"c"},"mark":{"type":"point","filled":true,"opacity":0.95,"stroke":"#333","strokeOpacity":0.18,"strokeWidth":0.5},"encoding":{"x":{"field":"x","type":"quantitative","scale":{"domain":[2.12,2.17]},"axis":{"title":"Ts/Tv ratio","values":[2.12,2.13,2.14,2.15,2.16,2.17],"format":".2f","titlePadding":2}},"y":{"field":"y","type":"quantitative","scale":{"domain":[0.6,2.6]},"axis":{"title":"Het/Hom ratio","values":[0.6,0.8,1,1.2,1.4,1.6,1.8,2,2.2,2.4,2.6],"format":".1f","titlePadding":8.5}},"fill":{"field":"g","type":"nominal","legend":null,"scale":{"domain":["Urp","Wht","Asn","Hsp","Aaw","Blk","Awt","Ahp","Hsw","Ref"],"range":["#4f81bd","#9bc45c","#8064a8","#8c0a12","#f08a3c","#95b3dc","#e8968a","#1d4a7a","#b3a2cc","#d9605a"]}},"size":{"condition":{"test":"datum.g==='Ref'","value":100},"value":38}}},
{"title":{"text":"d","dx":-33,"offset":-4},"width":174,"height":179,"data":{"name":"d"},"mark":{"type":"point","filled":true,"opacity":0.95,"stroke":"#333","strokeOpacity":0.18,"strokeWidth":0.5},"encoding":{"x":{"field":"x","type":"quantitative","scale":{"domain":[0,4000]},"axis":{"title":"Contig N50 (kb)","values":[0,1000,2000,3000,4000],"format":"d","titlePadding":3}},"y":{"field":"y","type":"quantitative","scale":{"domain":[0.8,1]},"axis":{"title":"Phasing rate","values":[0.8,0.82,0.84,0.86,0.88,0.9,0.92,0.94,0.96,0.98,1],"format":".2f","titlePadding":1}},"fill":{"field":"g","type":"nominal","legend":null,"scale":{"domain":["Urp","Wht","Asn","Hsp","Aaw","Blk","Awt","Ahp","Hsw","Ref"],"range":["#4f81bd","#9bc45c","#8064a8","#8c0a12","#f08a3c","#95b3dc","#e8968a","#1d4a7a","#b3a2cc","#d9605a"]}},"size":{"condition":{"test":"datum.g==='Ref'","value":100},"value":38}}},
{"title":{"text":"e","offset":-3},"width":176,"height":179,"data":{"name":"e"},"mark":{"type":"point","filled":true,"opacity":0.95,"stroke":"#333","strokeOpacity":0.18,"strokeWidth":0.5},"encoding":{"x":{"field":"x","type":"quantitative","scale":{"domain":[0,4000]},"axis":{"title":"Contig N50 (kb)","values":[0,1000,2000,3000,4000],"format":"d","titlePadding":4}},"y":{"field":"y","type":"quantitative","scale":{"domain":[15,55]},"axis":{"title":"Average fragment length (kb)","values":[15,20,25,30,35,40,45,50,55],"titlePadding":10.5}},"fill":{"field":"g","type":"nominal","legend":null,"scale":{"domain":["Urp","Wht","Asn","Hsp","Aaw","Blk","Awt","Ahp","Hsw","Ref"],"range":["#4f81bd","#9bc45c","#8064a8","#8c0a12","#f08a3c","#95b3dc","#e8968a","#1d4a7a","#b3a2cc","#d9605a"]}},"size":{"condition":{"test":"datum.g==='Ref'","value":100},"value":38}}},
{"title":{"text":"f","dx":-33,"offset":-2},"width":174,"height":179,"data":{"name":"f"},"mark":{"type":"point","filled":true,"opacity":0.95,"stroke":"#333","strokeOpacity":0.18,"strokeWidth":0.5},"encoding":{"x":{"field":"x","type":"quantitative","scale":{"domain":[0,4000]},"axis":{"title":"Contig N50 (kb)","values":[0,1000,2000,3000,4000],"format":"d","titlePadding":4}},"y":{"field":"y","type":"quantitative","scale":{"domain":[0,35]},"axis":{"title":"Cell number","values":[0,5,10,15,20,25,30,35],"titlePadding":9.5}},"fill":{"field":"g","type":"nominal","legend":null,"scale":{"domain":["Urp","Wht","Asn","Hsp","Aaw","Blk","Awt","Ahp","Hsw","Ref"],"range":["#4f81bd","#9bc45c","#8064a8","#8c0a12","#f08a3c","#95b3dc","#e8968a","#1d4a7a","#b3a2cc","#d9605a"]}},"size":{"condition":{"test":"datum.g==='Ref'","value":100},"value":38}}}
]}
